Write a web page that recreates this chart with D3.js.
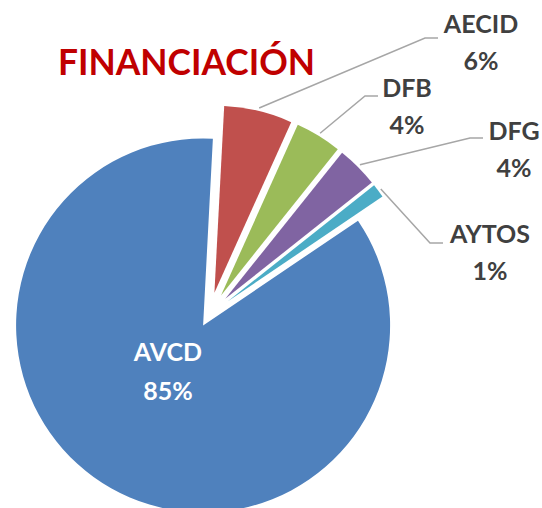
<!DOCTYPE html>
<html>
<head>
<meta charset="utf-8">
<script src="https://cdn.jsdelivr.net/npm/d3@7"></script>
<style>
  body { margin: 0; background: #fff; }
  svg { display: block; }
</style>
</head>
<body>
<svg id="chart"></svg>
<script>
// data
var categories = ["AECID", "DFB", "DFG", "AYTOS", "AVCD"];
var values = [5.9, 4.0, 3.6, 1.2, 85.3];
var colors = ["#c0504d", "#9bbb59", "#8064a2", "#4bacc6", "#4f81bd"];

var width = 542, height = 508;
var cx = 209, cy = 315, radius = 187;

var svg = d3.select("#chart")
  .attr("width", width)
  .attr("height", height);

var total = d3.sum(values);
var rows = categories.map(function (c, i) {
  return { name: c, value: values[i], color: colors[i] };
});

var start = 3 * Math.PI / 180;
var pie = d3.pie()
  .sort(null)
  .value(function (d) { return d.value; })
  .startAngle(start)
  .endAngle(start + 2 * Math.PI);

var arc = d3.arc().innerRadius(0).outerRadius(radius);

var arcs = pie(rows);

function explode(d) {
  return d.data.name === "AVCD" ? 12 : 23;
}
function offset(d) {
  var a = (d.startAngle + d.endAngle) / 2, e = explode(d);
  return [Math.sin(a) * e, -Math.cos(a) * e];
}

var g = svg.append("g")
  .attr("transform", "translate(" + cx + "," + cy + ")");

g.selectAll("path")
  .data(arcs)
  .enter()
  .append("path")
  .attr("d", arc)
  .attr("fill", function (d) { return d.data.color; })
  .attr("transform", function (d) {
    return "translate(" + offset(d) + ")";
  });

// label layout for the outside labels (elbow point, text x, first baseline)
var layout = {
  AECID: { ex: 425, ey: 38, tx: 481, ty: 33 },
  DFB:   { ex: 365, ey: 96, tx: 407, ty: 97 },
  DFG:   { ex: 470, ey: 138, tx: 514, ty: 140 },
  AYTOS: { ex: 430, ey: 243, tx: 490, ty: 243 }
};

function pct(d) {
  return Math.round(d.data.value / total * 100) + "%";
}

var outside = arcs.filter(function (d) { return layout[d.data.name]; });

svg.selectAll("polyline.leader")
  .data(outside)
  .enter()
  .append("polyline")
  .attr("class", "leader")
  .attr("fill", "none")
  .attr("stroke", "#a6a6a6")
  .attr("stroke-width", 1.5)
  .attr("points", function (d) {
    var a = (d.startAngle + d.endAngle) / 2, o = offset(d), L = layout[d.data.name];
    var sx = cx + o[0] + Math.sin(a) * (radius + 3);
    var sy = cy + o[1] - Math.cos(a) * (radius + 3);
    return [[sx, sy], [L.ex, L.ey], [L.ex + 13, L.ey]].join(" ");
  });

var labels = svg.selectAll("text.lbl")
  .data(outside)
  .enter()
  .append("text")
  .attr("class", "lbl")
  .attr("text-anchor", "middle")
  .attr("font-family", "Lato, 'Open Sans', sans-serif")
  .attr("font-weight", "bold")
  .attr("font-size", 25)
  .attr("fill", "#404040");

labels.append("tspan")
  .attr("x", function (d) { return layout[d.data.name].tx; })
  .attr("y", function (d) { return layout[d.data.name].ty; })
  .text(function (d) { return d.data.name; });
labels.append("tspan")
  .attr("x", function (d) { return layout[d.data.name].tx; })
  .attr("y", function (d) { return layout[d.data.name].ty + 37; })
  .text(pct);

// inside label for the big slice
var big = arcs.filter(function (d) { return d.data.name === "AVCD"; });
var inner = svg.selectAll("text.inner")
  .data(big)
  .enter()
  .append("text")
  .attr("class", "inner")
  .attr("text-anchor", "middle")
  .attr("font-family", "Lato, 'Open Sans', sans-serif")
  .attr("font-weight", "bold")
  .attr("font-size", 25)
  .attr("fill", "#fff");
inner.append("tspan").attr("x", 168).attr("y", 361).text(function (d) { return d.data.name; });
inner.append("tspan").attr("x", 168).attr("y", 400).text(pct);

// title
svg.append("text")
  .attr("x", 58)
  .attr("y", 75)
  .attr("font-family", "Lato, 'Open Sans', sans-serif")
  .attr("font-weight", "bold")
  .attr("font-size", 36)
  .attr("textLength", 257)
  .attr("lengthAdjust", "spacingAndGlyphs")
  .attr("fill", "#c00000")
  .text("FINANCIACIÓN");
</script>
</body>
</html>
